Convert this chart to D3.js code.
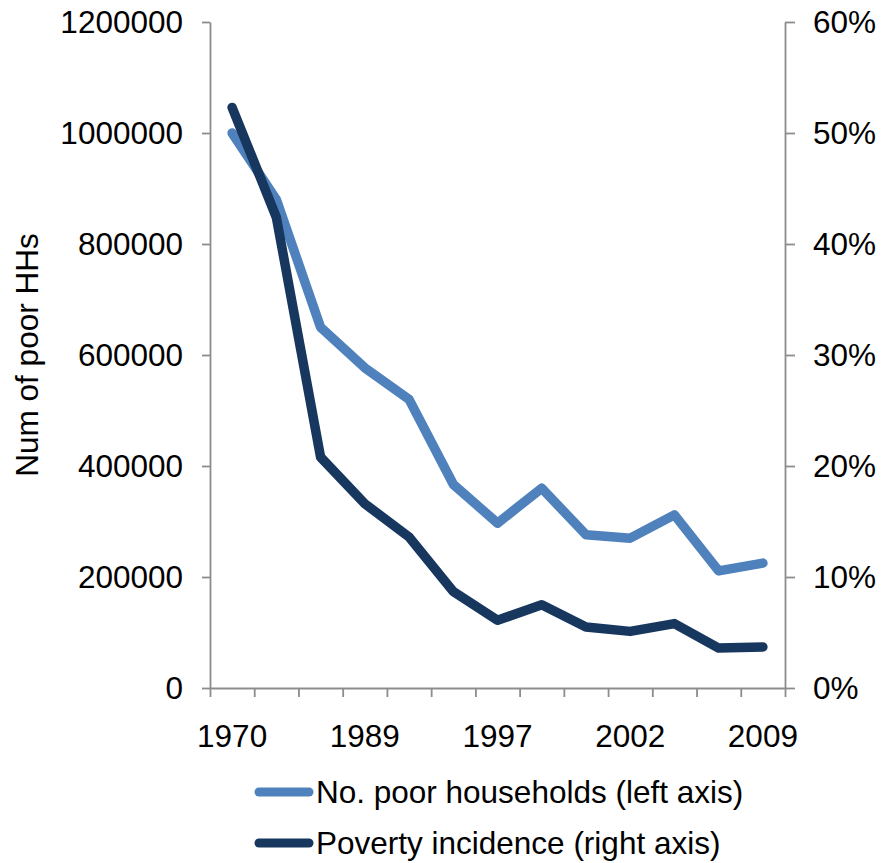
<!DOCTYPE html>
<html>
<head>
<meta charset="utf-8">
<script src="https://cdn.jsdelivr.net/npm/d3@7/dist/d3.min.js"></script>
<style>
  html, body { margin: 0; padding: 0; background: #ffffff; }
  svg text { font-family: "Liberation Sans", Arial, sans-serif; fill: #000; }
</style>
</head>
<body>
<svg id="chart" width="883" height="863"></svg>
<script>
// Survey years
const years = ["1970", "1976", "1984", "1989", "1992", "1995", "1997", "1999", "2000", "2002", "2004", "2007", "2009"];
// Number of poor households (left axis)
const poorHouseholds = [1000000, 880000, 650000, 577000, 520000, 367000, 297000, 360000, 276000, 270000, 312000, 211000, 225000];
// Poverty incidence, % (right axis)
const povertyIncidence = [52.3, 42.4, 20.8, 16.6, 13.6, 8.7, 6.1, 7.5, 5.5, 5.1, 5.8, 3.6, 3.7];
// Tick values
const leftTicks = [0, 200000, 400000, 600000, 800000, 1000000, 1200000];
const rightTicks = [0, 10, 20, 30, 40, 50, 60];
const labelledYears = ["1970", "1989", "1997", "2002", "2009"];

const seriesNames = ["No. poor households (left axis)", "Poverty incidence (right axis)"];
const colors = ["#4f81bd", "#17375e"];

const svg = d3.select("#chart");
const plotLeft = 210, plotRight = 785, plotTop = 22, plotBottom = 688;
const axisColor = "#8c8c8c";
const fontSize = 31.5;
const fontFamily = "Liberation Sans, Arial, sans-serif";

const x = d3.scaleBand().domain(years).range([plotLeft, plotRight]).paddingInner(0).paddingOuter(0);
const xEdges = d3.scaleLinear().domain([0, years.length]).range([plotLeft, plotRight]);
const yLeft = d3.scaleLinear().domain([0, 1200000]).range([plotBottom, plotTop]);
const yRight = d3.scaleLinear().domain([0, 60]).range([plotBottom, plotTop]);
const cx = d => x(d) + x.bandwidth() / 2;

function styleAxis(g) {
  g.select(".domain").attr("stroke", axisColor).attr("stroke-width", 1.8);
  g.selectAll(".tick line").attr("stroke", axisColor).attr("stroke-width", 1.8);
  g.selectAll(".tick text").attr("font-size", fontSize).attr("font-family", fontFamily).attr("fill", "#000");
}

// Left axis
svg.append("g")
  .attr("transform", `translate(${plotLeft},0)`)
  .call(d3.axisLeft(yLeft).tickValues(leftTicks).tickFormat(d3.format("d")).tickSize(8).tickSizeOuter(0).tickPadding(19))
  .call(styleAxis);

// Right axis
svg.append("g")
  .attr("transform", `translate(${plotRight},0)`)
  .call(d3.axisRight(yRight).tickValues(rightTicks).tickFormat(d => d + "%").tickSize(10).tickSizeOuter(0).tickPadding(18))
  .call(styleAxis);

// Bottom axis: tick marks at category boundaries
svg.append("g")
  .attr("transform", `translate(0,${plotBottom})`)
  .call(d3.axisBottom(xEdges).tickValues(d3.range(years.length + 1)).tickFormat("").tickSize(9).tickSizeOuter(0))
  .call(styleAxis);

// Bottom axis: year labels on category centres
svg.append("g")
  .attr("transform", `translate(0,${plotBottom})`)
  .call(d3.axisBottom(x).tickValues(labelledYears).tickSize(0).tickPadding(37))
  .call(g => g.select(".domain").remove())
  .call(g => g.selectAll(".tick text").attr("font-size", fontSize).attr("font-family", fontFamily).attr("fill", "#000"));

// Left axis title
svg.append("text")
  .attr("transform", `translate(38,${(plotTop + plotBottom) / 2}) rotate(-90)`)
  .attr("text-anchor", "middle")
  .attr("font-size", fontSize)
  .text("Num of poor HHs");

// Lines
const lineLeft = d3.line().x((d, i) => cx(years[i])).y(d => yLeft(d));
const lineRight = d3.line().x((d, i) => cx(years[i])).y(d => yRight(d));

svg.append("path")
  .datum(poorHouseholds)
  .attr("d", lineLeft)
  .attr("fill", "none")
  .attr("stroke", colors[0])
  .attr("stroke-width", 9.5)
  .attr("stroke-linejoin", "round")
  .attr("stroke-linecap", "round");

svg.append("path")
  .datum(povertyIncidence)
  .attr("d", lineRight)
  .attr("fill", "none")
  .attr("stroke", colors[1])
  .attr("stroke-width", 9.5)
  .attr("stroke-linejoin", "round")
  .attr("stroke-linecap", "round");

// Legend
const legend = svg.append("g");
const legendY = [792, 843];
seriesNames.forEach((name, i) => {
  legend.append("line")
    .attr("x1", 259).attr("x2", 309)
    .attr("y1", legendY[i]).attr("y2", legendY[i])
    .attr("stroke", colors[i])
    .attr("stroke-width", 9)
    .attr("stroke-linecap", "round");
  legend.append("text")
    .attr("x", 316)
    .attr("y", legendY[i] + 11)
    .attr("font-size", fontSize)
    .text(name);
});
</script>
</body>
</html>
